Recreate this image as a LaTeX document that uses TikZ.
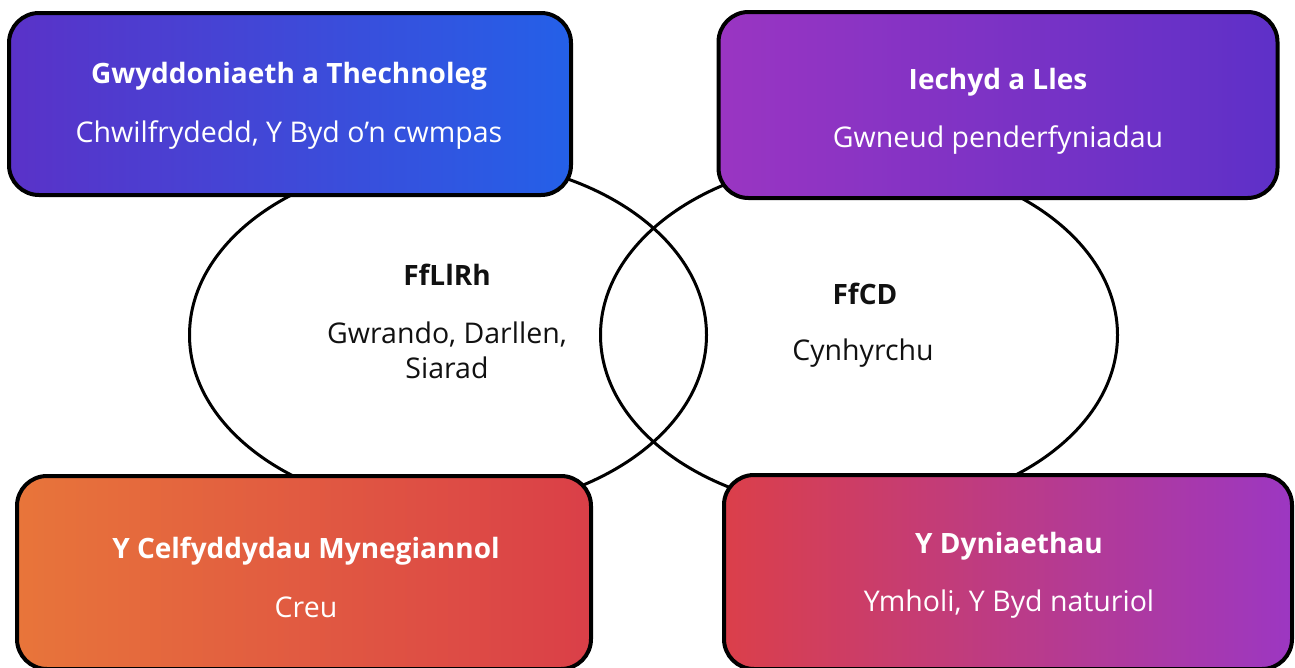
\documentclass[tikz,border=0pt]{standalone}
\usepackage{fontspec}
\setmainfont{Open Sans}
\usetikzlibrary{shapes.geometric}
\definecolor{tlL}{HTML}{5A32C8}
\definecolor{tlR}{HTML}{2460E8}
\definecolor{trL}{HTML}{9A35C2}
\definecolor{trR}{HTML}{5E30C8}
\definecolor{blL}{HTML}{E8753A}
\definecolor{blR}{HTML}{DA3F48}
\definecolor{brL}{HTML}{DB3F4A}
\definecolor{brR}{HTML}{9C37C2}
\definecolor{ink}{HTML}{111111}
\tikzset{
  oval/.style={ellipse, draw=black, line width=3pt, inner sep=0pt, minimum width=517pt, minimum height=352pt},
  card/.style={draw=black, line width=4pt, rounded corners=30pt, inner sep=0pt},
  head/.style={anchor=base, text=white, font=\fontsize{28}{31}\selectfont\bfseries, inner sep=0pt},
  sub/.style={anchor=base, text=white, font=\fontsize{28.5}{31}\selectfont, inner sep=0pt},
  ohead/.style={anchor=base, text=ink, font=\fontsize{28}{31}\selectfont\bfseries, inner sep=0pt},
  osub/.style={anchor=base, text=ink, font=\fontsize{28.5}{31}\selectfont, inner sep=0pt}
}
\begin{document}
\begin{tikzpicture}[x=1pt,y=-1pt]
\useasboundingbox (0,0) rectangle (1295,667);
\fill[white] (0,0) rectangle (1295,667);
% ellipses
\node[oval] (L) at (448,335) {};
\node[oval] (R) at (859,335) {};
% boxes
\node[card, left color=tlL, right color=tlR, minimum width=562pt, minimum height=182pt] (TL) at (290,104) {};
\node[card, left color=trL, right color=trR, minimum width=559pt, minimum height=186pt] (TR) at (998,105) {};
\node[card, left color=blL, right color=blR, minimum width=574pt, minimum height=193pt] (BL) at (304,572.5) {};
\node[card, left color=brL, right color=brR, minimum width=568pt, minimum height=194pt] (BR) at (1008,572) {};
% box texts
\node[head] (tl1) at (289,83) {Gwyddoniaeth a Thechnoleg};
\node[sub] (tl2) at (289,142) {Chwilfrydedd, Y Byd o’n cwmpas};
\node[head] (tr1) at (998,89) {Iechyd a Lles};
\node[sub] (tr2) at (998,147) {Gwneud penderfyniadau};
\node[head] (bl1) at (306,558) {Y Celfyddydau Mynegiannol};
\node[sub] (bl2) at (306,617) {Creu};
\node[head] (br1) at (1009,553) {Y Dyniaethau};
\node[sub] (br2) at (1009,611) {Ymholi, Y Byd naturiol};
% ellipse texts
\node[ohead] (l1) at (447,285) {FfLlRh};
\node[osub] (l2) at (447,343) {Gwrando, Darllen,};
\node[osub] (l3) at (447,378) {Siarad};
\node[ohead] (r1) at (865,304) {FfCD};
\node[osub] (r2) at (863,360) {Cynhyrchu};
\end{tikzpicture}
\end{document}
